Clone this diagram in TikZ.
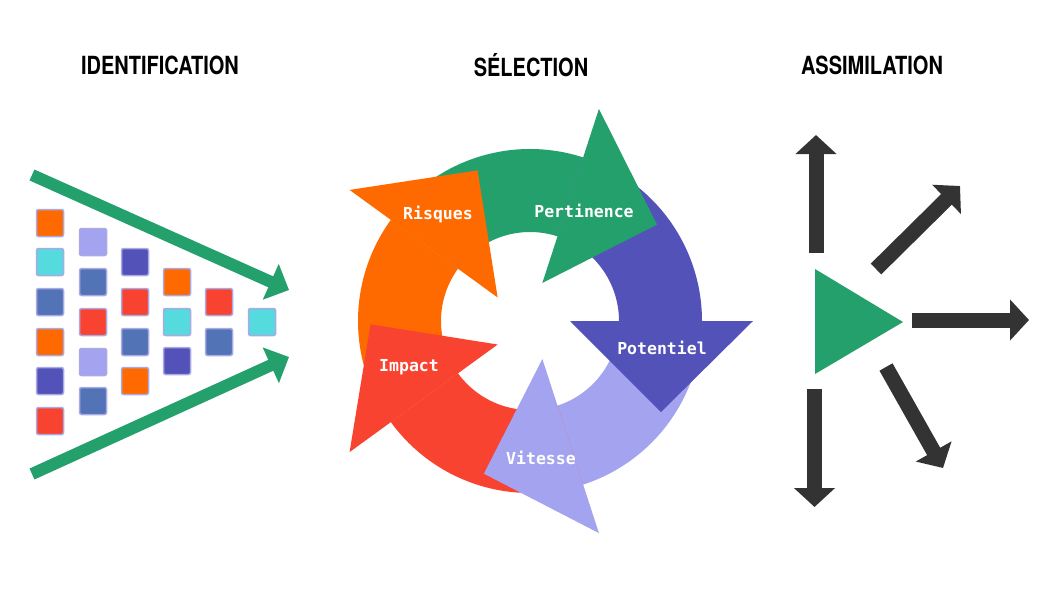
\documentclass[tikz,border=0pt]{standalone}
\usepackage{fontspec}
\setmainfont{TeX Gyre Heros}
\newfontfamily\labelfont{DejaVu Sans Mono}
\usetikzlibrary{arrows.meta}
\definecolor{cgreen}{HTML}{23A06B}
\definecolor{cpurple}{HTML}{5252B8}
\definecolor{clav}{HTML}{A3A3F0}
\definecolor{cred}{HTML}{F84331}
\definecolor{corange}{HTML}{FF6A00}
\definecolor{ccyan}{HTML}{55DADD}
\definecolor{csteel}{HTML}{5273B5}
\definecolor{cdark}{HTML}{333333}
\definecolor{cborder}{HTML}{A9A9E6}
\begin{document}
\begin{tikzpicture}[x=1pt,y=-1pt,
  title/.style={font=\fontsize{25}{25}\selectfont\bfseries, inner sep=0pt, text=black},
  sq/.style={draw=cborder, line width=1.5pt, minimum size=27pt, inner sep=0pt, rounded corners=2pt},
  garrow/.style={draw=cgreen, line width=12pt, -{Triangle[length=20pt,width=38pt]}},
  darrow/.style={draw=cdark, line width=15pt, -{Triangle[length=19pt,width=40pt]}},
  lbl/.style={font=\labelfont\bfseries\fontsize{16.5}{17}\selectfont, text=white, inner sep=0pt}]
\useasboundingbox (0,0) rectangle (1047,600);
\fill[white] (0,0) rectangle (1047,600);

% titles
\node[title] (t1) at (160,65) {\scalebox{0.8}[1]{IDENTIFICATION}};
\node[title] (t2) at (531,65) {\scalebox{0.8}[1]{SÉLECTION}};
\node[title] (t3) at (872,65) {\scalebox{0.8}[1]{ASSIMILATION}};

% squares
\foreach \x/\y/\c [count=\i] in {
  50/223/corange, 50/262/ccyan, 50/302/csteel, 50/342/corange, 50/381/cpurple, 50/421/cred,
  93/242/clav, 93/282/csteel, 93/322/cred, 93/362/clav, 93/401/csteel,
  135/262/cpurple, 135/302/cred, 135/342/csteel, 135/381/corange,
  177/282/corange, 177/322/ccyan, 177/361/cpurple,
  219/302/cred, 219/342/csteel,
  262/322/ccyan}
  \node[sq, fill=\c] (s\i) at (\x,\y) {};

% green converging arrows
\coordinate (ua) at (32,175);
\coordinate (ub) at (289,290);
\coordinate (la) at (32,474);
\coordinate (lb) at (289,357);
\draw[garrow] (ua) -- (ub);
\draw[garrow] (la) -- (lb);

% cycle
\begin{scope}[shift={(530,321)}, y=1pt]
  \foreach \b/\c in {72/cgreen,0/cpurple,-72/clav,-144/cred,144/corange}
    \fill[\c] ({\b+72}:172) arc[start angle={\b+72}, end angle=\b, radius=172]
      -- (\b:89) arc[start angle=\b, end angle={\b+72}, radius=89] -- cycle;
  \foreach \b/\c in {72/cgreen,0/cpurple,-72/clav,-144/cred,144/corange}
    \fill[\c] (\b:40) -- (\b:223) -- ({\b-34.8}:159.5) -- cycle;
\end{scope}
\node[lbl] (l1) at (438,215) {Risques};
\node[lbl] (l2) at (584,211) {Pertinence};
\node[lbl] (l3) at (662,348) {Potentiel};
\node[lbl] (l4) at (409,367) {Impact};
\node[lbl] (l5) at (541,458) {Vitesse};

% assimilation
\fill[cgreen] (815,269) -- (815,374) -- (903,322) -- cycle;
\coordinate (a1) at (816,253);   \coordinate (b1) at (816,135);
\coordinate (a2) at (876,269);   \coordinate (b2) at (960,186);
\coordinate (a3) at (912,320);   \coordinate (b3) at (1029,320);
\coordinate (a4) at (886,367);   \coordinate (b4) at (943,468);
\coordinate (a5) at (814.5,389); \coordinate (b5) at (814.5,507);
\draw[darrow] (a1) -- (b1);
\draw[darrow] (a2) -- (b2);
\draw[darrow] (a3) -- (b3);
\draw[darrow] (a4) -- (b4);
\draw[darrow] (a5) -- (b5);
\end{tikzpicture}
\end{document}
